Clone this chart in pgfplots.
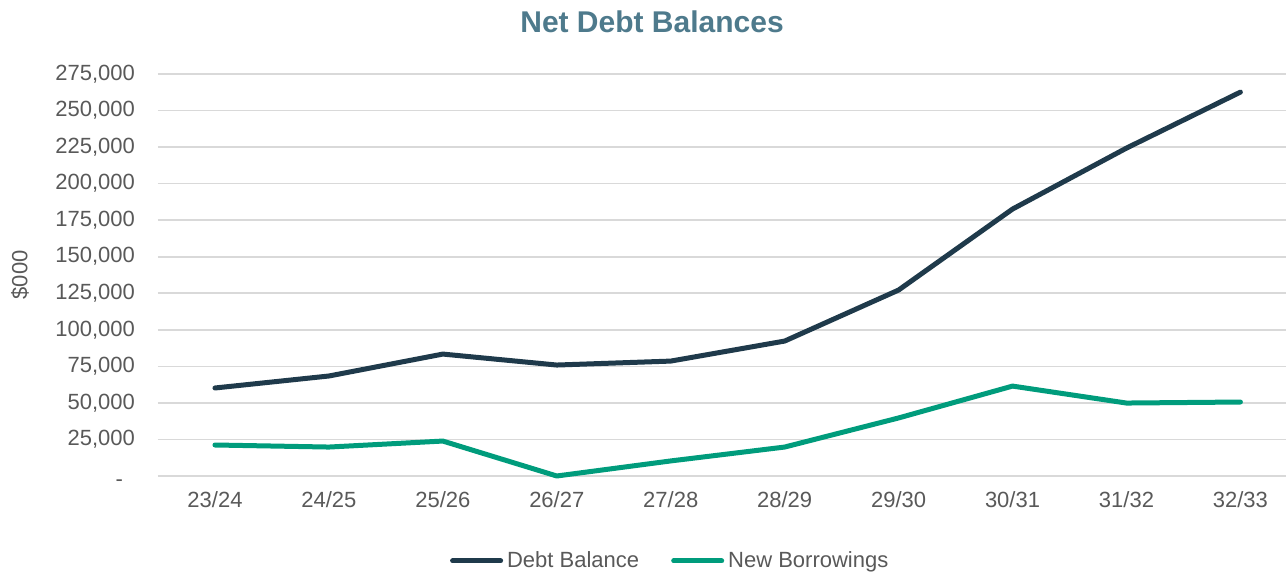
\documentclass[border=0pt]{standalone}
\usepackage{pgfplots}
\pgfplotsset{compat=1.18}
\usepackage{fontspec}
\setmainfont{Liberation Sans}
\definecolor{debtc}{HTML}{1F3A4B}
\definecolor{newc}{HTML}{009C7C}
\definecolor{titlec}{HTML}{4E7A8C}
\definecolor{gridc}{HTML}{D9D9D9}
\definecolor{txtc}{HTML}{595959}
\begin{document}
\begin{tikzpicture}
\begin{axis}[
  at={(0,0)}, anchor=south west,
  scale only axis, width=564pt, height=201pt,
  xmin=-0.5, xmax=9.4, ymin=0, ymax=275000,
  scaled y ticks=false,
  xtick={0,...,9},
  xticklabels={23/24,24/25,25/26,26/27,27/28,28/29,29/30,30/31,31/32,32/33},
  ytick={0,25000,50000,75000,100000,125000,150000,175000,200000,225000,250000,275000},
  yticklabels={{\smash{\raisebox{-2.5pt}{-}}\kern6pt\strut},{25,000},{50,000},{75,000},{100,000},{125,000},{150,000},{175,000},{200,000},{225,000},{250,000},{275,000}},
  ymajorgrids, grid style={gridc, line width=0.8pt},
  axis line style={draw=none}, major tick length=0pt,
  tick label style={font=\fontsize{11}{13}\selectfont, text=txtc},
  yticklabel style={xshift=-8pt},
  xticklabel style={yshift=-4pt},
  ylabel={\$000},
  ylabel style={at={(axis description cs:0,0.5)}, yshift=69pt, anchor=center, font=\fontsize{11}{13}\selectfont, text=txtc},
  legend style={at={(axis description cs:0.455,0)}, yshift=-42.5pt, anchor=center, draw=none, legend columns=2, font=\fontsize{11}{13}\selectfont, text=txtc, /tikz/every even column/.append style={column sep=14pt}},
  legend image code/.code={\draw[#1, line width=2.5pt, line cap=round] (0pt,0pt) -- (24pt,0pt);},
  clip=false,
]
\addplot[debtc, line width=2.5pt, line cap=round, line join=round] coordinates {
(0,60200) (1,68400) (2,83400) (3,75900) (4,78600) (5,92300) (6,127200) (7,182600) (8,224300) (9,262600)};
\addlegendentry{Debt Balance}
\addplot[newc, line width=2.5pt, line cap=round, line join=round] coordinates {
(0,21200) (1,19800) (2,23900) (3,0) (4,10300) (5,19800) (6,39700) (7,61500) (8,49900) (9,50600)};
\addlegendentry{New Borrowings}
\node[font=\fontsize{15}{18}\selectfont\bfseries, text=titlec] at ([yshift=26pt]axis description cs:0.438,1) {Net Debt Balances};
\end{axis}
\pgfresetboundingbox
\useasboundingbox (-79pt,-50pt) rectangle (564pt,238pt);
\end{tikzpicture}
\end{document}
